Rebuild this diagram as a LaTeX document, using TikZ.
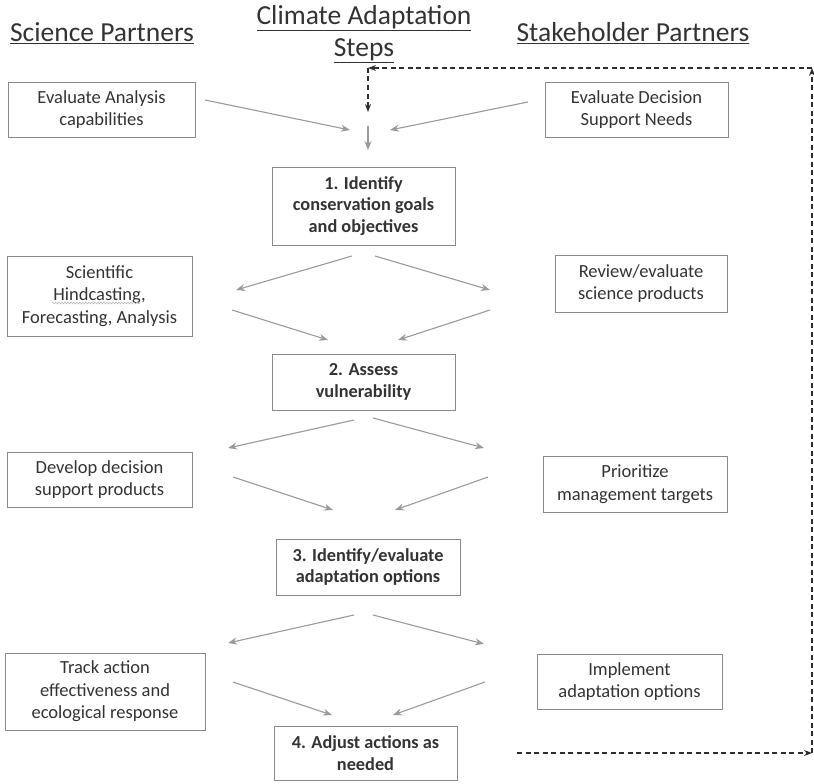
\documentclass[tikz,border=0pt]{standalone}
\usepackage{fontspec}
\setmainfont{Carlito}
\usetikzlibrary{arrows.meta,decorations.pathmorphing}

\definecolor{ink}{HTML}{333333}
\definecolor{frame}{HTML}{8A8A8A}
\definecolor{flow}{HTML}{9A9A9A}
\definecolor{loopc}{HTML}{2E2E2E}

\begin{document}
\begin{tikzpicture}[x=1pt,y=-1pt,
  box/.style={draw=frame, line width=0.9pt, text=ink, align=center, inner sep=0pt,
    font=\fontsize{18.5}{22.5}\selectfont},
  stepbox/.style={box, font=\fontsize{18.3}{21.5}\selectfont\bfseries},
  header/.style={text=ink, font=\fontsize{27.5}{32}\selectfont, inner sep=0pt},
  flowarrow/.style={draw=flow, line width=1.1pt, -{Stealth[length=9pt,width=7pt]}},
  feedback/.style={draw=loopc, line width=1.3pt, dash pattern=on 5pt off 3.5pt,
    -{Stealth[length=8pt,width=6pt]}}
]
\useasboundingbox (0,0) rectangle (814,784);

% column headings
\node[header] (hsci) at (102,33) {\underline{Science Partners}};
\node[header] (hclim) at (364,18) {\underline{Climate\ Adaptation}};
\node[header] (hsteps) at (364,51) {\underline{Steps}};
\node[header] (hstake) at (633,33) {\underline{Stakeholder\ Partners}};

% partner boxes
\node[box, minimum width=187pt, minimum height=55pt] (evalA) at (101.5,109.5)
  {Evaluate Analysis\\capabilities};
\node[box, minimum width=183pt, minimum height=55pt] (evalD) at (636.5,109.5)
  {Evaluate Decision\\Support Needs};
\node[box, minimum width=185pt, minimum height=80pt] (sci) at (99.5,296)
  {Scientific\\Hindcasting,\\Forecasting, Analysis};
\node[box, minimum width=172pt, minimum height=57pt] (review) at (641,283.5)
  {Review/evaluate\\science products};
\node[box, minimum width=185pt, minimum height=55pt] (develop) at (99.5,479.5)
  {Develop decision\\support products};
\node[box, minimum width=184pt, minimum height=56pt] (prior) at (635,484)
  {Prioritize\\management targets};
\node[box, minimum width=200pt, minimum height=77pt] (track) at (105,691.5)
  {Track action\\effectiveness and\\ecological response};
\node[box, minimum width=185pt, minimum height=55pt] (impl) at (629.5,681.5)
  {Implement\\adaptation options};

% adaptation steps
\node[stepbox, minimum width=183pt, minimum height=78pt] (s1) at (363.5,206)
  {1. Identify\\conservation goals\\and objectives};
\node[stepbox, minimum width=183pt, minimum height=56pt] (s2) at (363.5,382)
  {2. Assess\\vulnerability};
\node[stepbox, minimum width=184pt, minimum height=56pt] (s3) at (368,567)
  {3. Identify/evaluate\\adaptation options};
\node[stepbox, minimum width=183pt, minimum height=54pt] (s4) at (365.5,753)
  {4. Adjust actions as\\needed};

% spell-check squiggle under "Hindcasting,"
\draw[draw=flow!70, line width=0.6pt, decorate,
  decoration={snake, amplitude=0.9pt, segment length=3pt}]
  (52,303) -- (140,303);

% arrow end points
\coordinate (t1a) at (205,100);  \coordinate (t1b) at (350,130);
\coordinate (t2a) at (528,102);  \coordinate (t2b) at (390,130);
\coordinate (t3a) at (368,126);  \coordinate (t3b) at (368,150);

\coordinate (r1a) at (352,256);  \coordinate (r1b) at (236,290);
\coordinate (r2a) at (375,256);  \coordinate (r2b) at (490,290);
\coordinate (r3a) at (232,310);  \coordinate (r3b) at (328,340);
\coordinate (r4a) at (490,310);  \coordinate (r4b) at (398,340);

\coordinate (q1a) at (354,420);  \coordinate (q1b) at (228,448);
\coordinate (q2a) at (373,418);  \coordinate (q2b) at (484,448);
\coordinate (q3a) at (233,477);  \coordinate (q3b) at (333,510);
\coordinate (q4a) at (488,477);  \coordinate (q4b) at (395,510);

\coordinate (p1a) at (354,615);  \coordinate (p1b) at (228,643);
\coordinate (p2a) at (373,615);  \coordinate (p2b) at (484,644);
\coordinate (p3a) at (233,682);  \coordinate (p3b) at (332,715);
\coordinate (p4a) at (485,682);  \coordinate (p4b) at (393,715);

% grey flow arrows
\foreach \a in {t1,t2,t3,r1,r2,r3,r4,q1,q2,q3,q4,p1,p2,p3,p4}
  \draw[flowarrow] (\a a) -- (\a b);

% feedback loop back to the start
\coordinate (fb0) at (517,753);
\coordinate (fb1) at (812,753);
\coordinate (fb2) at (812,68);
\coordinate (fb3) at (368,68);
\coordinate (fb4) at (368,112);
\draw[feedback] (fb0) -- (fb1);
\draw[feedback] (fb1) -- (fb2);
\draw[feedback] (fb2) -- (fb3);
\draw[feedback] (fb3) -- (fb4);
\end{tikzpicture}
\end{document}
